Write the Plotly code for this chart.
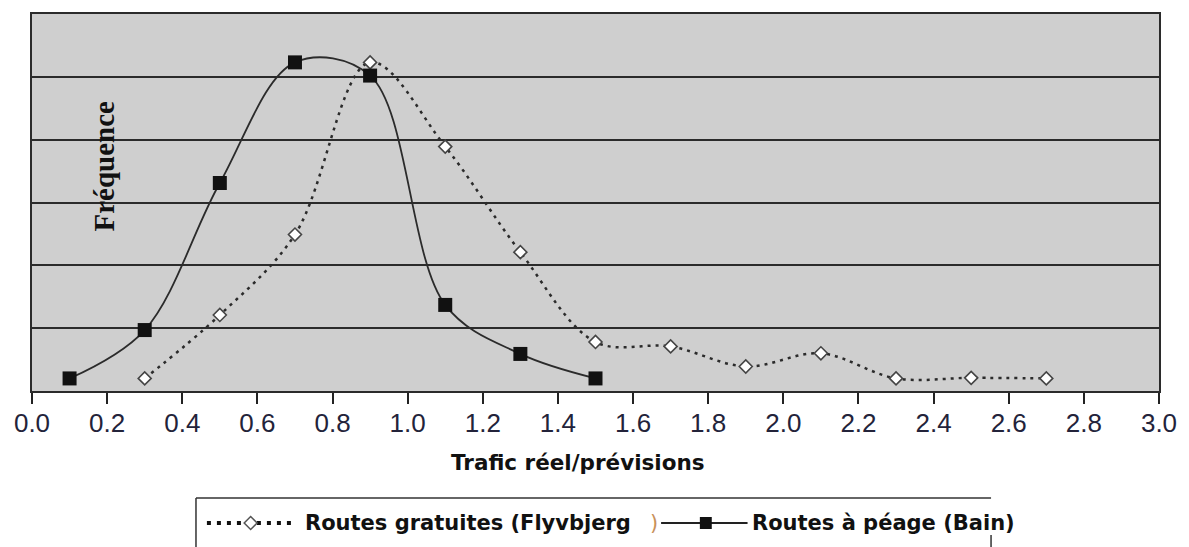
import plotly.graph_objects as go

# ---- data ----
x_free = [0.3, 0.5, 0.7, 0.9, 1.1, 1.3, 1.5, 1.7, 1.9, 2.1, 2.3, 2.5, 2.7]
y_free = [0.20, 1.21, 2.49, 5.23, 3.89, 2.21, 0.78, 0.71, 0.39, 0.60, 0.20, 0.21, 0.20]
x_toll = [0.1, 0.3, 0.5, 0.7, 0.9, 1.1, 1.3, 1.5]
y_toll = [0.20, 0.97, 3.31, 5.23, 5.02, 1.37, 0.59, 0.20]

name_free = "Routes gratuites (Flyvbjerg"
name_toll = "Routes à péage (Bain)"
x_title = "Trafic réel/prévisions"
y_title = "Fréquence"
x_ticks = [round(i * 0.2, 1) for i in range(16)]

# ---- geometry ----
W, H = 1189, 547
L, R, T, B = 32, 1166, 14, 391
PW, PH = R - L, B - T


def px(xp):
    return (xp - L) / PW


def py(yp):
    return (B - yp) / PH


DARK = "#2b2b2b"

fig = go.Figure()
fig.add_trace(go.Scatter(
    x=x_free, y=y_free, mode="lines+markers", name=name_free,
    line=dict(color=DARK, width=2.5, dash="3px,5px", shape="spline", smoothing=1.0),
    marker=dict(symbol="diamond", size=10, color="white", line=dict(color="#444", width=1.6)),
))
fig.add_trace(go.Scatter(
    x=x_toll, y=y_toll, mode="lines+markers", name=name_toll,
    line=dict(color=DARK, width=1.8, shape="spline", smoothing=1.0),
    marker=dict(symbol="square", size=14, color="#111"),
))

xaxis = dict(range=[0, 3], tickvals=x_ticks, tickformat=".1f",
             ticks="outside", ticklen=11, tickwidth=2, tickcolor="#222",
             showgrid=False, zeroline=False,
             showline=True, linecolor=DARK, linewidth=2, mirror=True,
             tickfont=dict(family="Liberation Sans, Arial", size=26, color="#23233a"))

fig.update_layout(
    width=W, height=H,
    margin=dict(l=L, r=W - R, t=T, b=H - B),
    paper_bgcolor="white", plot_bgcolor="#cfcfcf",
    showlegend=False,
    xaxis=xaxis,
    yaxis=dict(range=[0, 6], dtick=1, showticklabels=False, ticks="",
               showgrid=True, gridcolor=DARK, gridwidth=2.2, zeroline=False,
               showline=True, linecolor=DARK, linewidth=2, mirror=True),
)
try:
    fig.update_xaxes(ticklabelstandoff=-3)
except Exception:
    pass

# axis titles
fig.add_annotation(text="<b>" + y_title + "</b>", xref="paper", yref="paper",
                   x=px(104), y=py(166), xanchor="center", yanchor="middle",
                   textangle=-90, showarrow=False,
                   font=dict(family="Liberation Serif, Times New Roman", size=29, color="#111"))
fig.add_annotation(text="<b>" + x_title + "</b>", xref="paper", yref="paper",
                   x=px(581), y=py(463), xanchor="center", yanchor="middle", showarrow=False,
                   font=dict(family="DejaVu Sans, Verdana", size=21.5, color="#111"))

# legend box (partially visible, as in the reference)
ly = 523
shapes = [
    dict(type="line", xref="paper", yref="paper", x0=px(197), x1=px(997), y0=py(498), y1=py(498),
         line=dict(color="#333", width=1.5)),
    dict(type="line", xref="paper", yref="paper", x0=px(197), x1=px(197), y0=py(498), y1=py(547),
         line=dict(color="#333", width=1.5)),
    dict(type="line", xref="paper", yref="paper", x0=px(997), x1=px(997), y0=py(535), y1=py(547),
         line=dict(color="#333", width=1.5)),
    # free-road sample line
    dict(type="line", xref="paper", yref="paper", x0=px(208), x1=px(298), y0=py(ly), y1=py(ly),
         line=dict(color="#111", width=4, dash="4px,6px")),
    # toll-road sample line
    dict(type="line", xref="paper", yref="paper", x0=px(665), x1=px(752), y0=py(ly), y1=py(ly),
         line=dict(color="#222", width=1.8)),
    # square
    dict(type="rect", xref="paper", yref="paper", x0=px(704), x1=px(716), y0=py(ly + 6), y1=py(ly - 6),
         fillcolor="#111", line=dict(width=0)),
]
cx, h = 252, 6.5
shapes.append(dict(type="path", xref="paper", yref="paper",
                   path=f"M {px(cx)},{py(ly - h)} L {px(cx + h)},{py(ly)} L {px(cx)},{py(ly + h)} L {px(cx - h)},{py(ly)} Z",
                   fillcolor="white", line=dict(color="#555", width=1.5)))
fig.update_layout(shapes=shapes)

fig.add_annotation(text="<b>" + name_free + "</b>", xref="paper", yref="paper",
                   x=px(305), y=py(ly), xanchor="left", yanchor="middle", showarrow=False,
                   font=dict(family="DejaVu Sans, Verdana", size=21, color="#111"))
fig.add_annotation(text=")", xref="paper", yref="paper",
                   x=px(658), y=py(ly), xanchor="center", yanchor="middle", showarrow=False,
                   font=dict(family="DejaVu Sans", size=21, color="#c9925a"))
fig.add_annotation(text="<b>" + name_toll + "</b>", xref="paper", yref="paper",
                   x=px(754), y=py(ly), xanchor="left", yanchor="middle", showarrow=False,
                   font=dict(family="DejaVu Sans, Verdana", size=21, color="#111"))

fig.write_html("out.html", config={"displayModeBar": False},
               post_script="document.body.style.margin='0';document.body.style.overflow='hidden';")
